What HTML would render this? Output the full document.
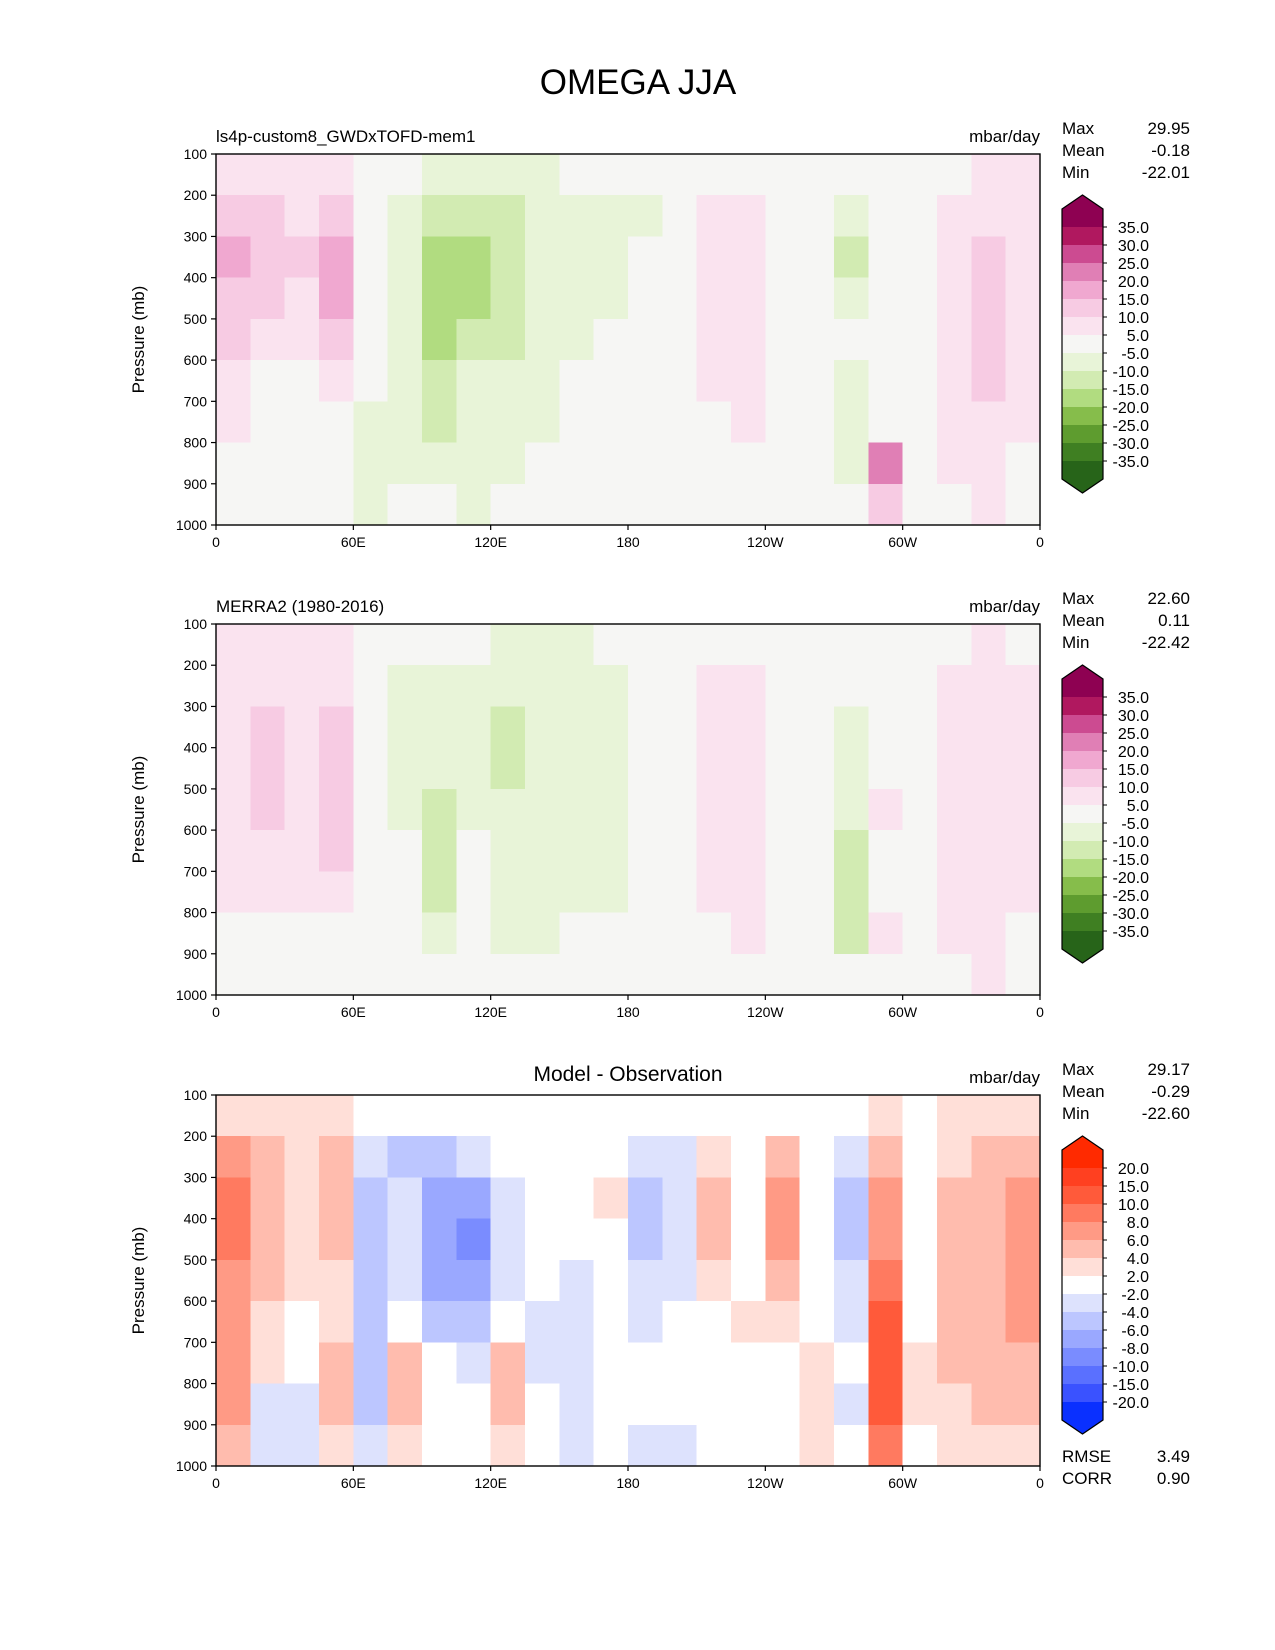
<!DOCTYPE html>
<html>
<head>
<meta charset="utf-8">
<style>
html,body{margin:0;padding:0;background:#fff;}
svg{display:block;font-family:"Liberation Sans","DejaVu Sans",sans-serif;}
</style>
</head>
<body>
<svg id="fig" width="1275" height="1650" viewBox="0 0 1275 1650" xmlns="http://www.w3.org/2000/svg">
<rect x="0" y="0" width="1275" height="1650" fill="#fff"/>
<text x="638" y="94" font-size="35" text-anchor="middle" fill="#000">OMEGA JJA</text>
</svg>
<script>
// ---- data ----
const xTickLabels = ["0","60E","120E","180","120W","60W","0"];
const yTickLabels = ["100","200","300","400","500","600","700","800","900","1000"];
const pressureLevels = [100,200,300,400,500,600,700,800,900,1000];
const lonBins = 24; // 15-degree bins from 0 to 360
const levelsMain = [-35,-30,-25,-20,-15,-10,-5,5,10,15,20,25,30,35];
const levelsDiff = [-20,-15,-10,-8,-6,-4,-2,2,4,6,8,10,15,20];
const colorsMain = ["#276419","#3f7f22","#5e9c2f","#86bd4b","#b1dc80","#d2ebb2","#e8f4d8","#f6f6f4","#fae3ef","#f7cbe3","#f0a8d0","#e07fb5","#cc4b91","#b0185f","#8e0152"];
const colorsDiff = ["#0a30ff","#3a52ff","#5a70ff","#7a8cff","#9aa8ff","#bcc6ff","#dde2fd","#ffffff","#ffdfd8","#ffbcae","#ff9a85","#ff7a60","#ff5a3a","#ff4020","#ff2a00"];
const model = [
[6,6,6,8,2,-3,-6,-6,-6,-6,-3,-3,0,0,0,0,0,0,-2,0,0,3,6,6],
[12,11,9,14,2,-8,-14,-12,-12,-9,-7,-6,-6,0,6,6,0,0,-10,0,0,7,9,8],
[17,12,10,18,2,-10,-17,-16,-14,-9,-7,-6,-2,0,7,6,0,0,-12,0,0,8,11,9],
[13,11,9,17,1,-10,-18,-17,-13,-9,-7,-6,0,0,7,6,0,0,-9,0,0,8,12,9],
[10,9,7,13,0,-8,-16,-14,-11,-8,-6,-2,0,0,6,7,0,0,-3,0,0,7,11,8],
[7,4,4,8,0,-6,-13,-10,-9,-7,-5,0,0,0,5,7,0,0,-6,0,0,7,10,7],
[5,2,3,3,-6,-6,-11,-7,-7,-6,-3,0,0,0,0,6,0,0,-7,4,0,6,9,6],
[3,0,-5,3,-10,-6,-6,-6,-6,-4,0,0,0,0,0,4,0,0,-8,20,0,6,8,4],
[0,-5,-5,0,-6,-3,-3,-6,-3,0,0,0,0,0,0,0,0,0,-3,10,-3,0,6,0]];
const obs = [
[5,5,5,6,3,-3,-5,-5,-6,-6,-6,-5,0,0,0,0,0,0,0,0,0,3,5,4],
[6,8,7,8,2,-7,-8,-6,-10,-9,-7,-7,0,0,5,5,0,0,-5,0,0,6,8,6],
[7,10,8,10,0,-10,-9,-6,-11,-10,-7,-7,0,0,6,6,0,0,-6,0,0,6,9,7],
[7,11,8,12,0,-9,-10,-6,-11,-10,-7,-7,0,0,6,6,0,0,-7,3,0,6,9,7],
[6,11,8,14,0,-7,-13,-6,-10,-9,-7,-6,0,0,6,7,0,0,-10,5,0,6,8,7],
[5,9,7,11,0,-4,-14,-5,-8,-7,-6,-6,0,0,6,7,0,0,-14,3,0,6,9,6],
[5,6,6,6,0,-3,-12,-5,-6,-6,-6,-6,0,0,5,6,0,0,-14,0,0,6,9,6],
[4,3,3,2,-3,-3,-8,-3,-6,-6,-5,-3,0,0,0,6,0,0,-12,5,0,5,8,4],
[0,0,-3,0,-3,0,-5,0,-3,0,0,0,0,0,0,0,0,0,-5,0,0,0,5,0]];
const diff = [
[3,3,2,3,0,-2,-1,-1,0,0,0,0,0,-1,0,0,0,0,-1,3,0,2,3,3],
[6,4,3,5,-4,-5,-5,-4,-2,-2,0,0,-4,-3,3,0,4,0,-3,5,0,3,4,5],
[8,5,3,5,-6,-4,-7,-8,-3,-2,0,2,-5,-3,4,0,6,-2,-5,6,0,4,5,6],
[8,5,3,4,-5,-3,-7,-9,-3,-2,-2,0,-5,-3,4,0,7,-2,-5,6,0,4,5,6],
[7,4,2,2,-6,-3,-8,-8,-3,-2,-3,0,-4,-3,2,0,5,-2,-4,8,0,4,5,6],
[6,3,1,3,-5,0,-5,-6,-2,-3,-3,0,-3,-2,0,2,2,0,-3,10,0,4,5,6],
[6,2,-2,4,-6,4,-2,-3,4,-3,-3,0,-2,-2,0,0,0,2,-2,11,2,4,5,5],
[7,-3,-3,5,-5,5,-2,-2,5,-2,-3,0,-2,-2,0,0,0,2,-3,13,3,3,4,4],
[5,-4,-3,2,-3,2,-2,-2,3,-2,-3,-2,-3,-3,-2,-2,0,2,-2,8,-2,2,3,3]];
const statLabels = ["Max","Mean","Min"];
const statsModel = ["29.95","-0.18","-22.01"];
const statsObs = ["22.60","0.11","-22.42"];
const statsDiff = ["29.17","-0.29","-22.60"];
const extraLabels = ["RMSE","CORR"];
const extraValues = ["3.49","0.90"];

// ---- drawing ----
const NS="http://www.w3.org/2000/svg";
const svg=document.getElementById('fig');
function mk(tag,attrs,parent){const e=document.createElementNS(NS,tag);for(const k in attrs)e.setAttribute(k,attrs[k]);(parent||svg).appendChild(e);return e;}
const X0=216,X1=1040;
function xScale(lon){return X0+(lon/360)*(X1-X0);}
function colorFor(v,levels,colors){let i=0;while(i<levels.length&&v>=levels[i])i++;return colors[i];}

const panels=[
 {top:154,data:model,stats:statsModel,title:"ls4p-custom8_GWDxTOFD-mem1",center:false,diff:false,name:"model-panel"},
 {top:624,data:obs,stats:statsObs,title:"MERRA2 (1980-2016)",center:false,diff:false,name:"obs-panel"},
 {top:1095,data:diff,stats:statsDiff,title:"Model - Observation",center:true,diff:true,name:"diff-panel"}];
const H=371;

panels.forEach((p,pi)=>{
  const g=mk('g',{});
  
  
  const levs=p.diff?levelsDiff:levelsMain;
  const cols=p.diff?colorsDiff:colorsMain;
  const yScale=pr=>p.top+(pr-100)/900*H;
  const bg=mk('rect',{x:X0,y:p.top,width:X1-X0,height:H,fill:p.diff?'#ffffff':'#f6f6f4'},g);
  
  
  const cg=mk('g',{'shape-rendering':'crispEdges'},g);
  
  
  p.data.forEach((row,ri)=>{
    row.forEach((v,ci)=>{
      const c=colorFor(v,levs,cols);
      const x=xScale(ci*360/lonBins), x2=xScale((ci+1)*360/lonBins);
      const y=yScale(pressureLevels[ri]), y2=yScale(pressureLevels[ri+1]);
      const r=mk('rect',{x:x,y:y,width:x2-x+0.5,height:y2-y+0.5,fill:c},cg);
      
      
    });
  });
  const fr=mk('rect',{x:X0,y:p.top,width:X1-X0,height:H,fill:'none',stroke:'#000','stroke-width':1.4},g);
  
  
  yTickLabels.forEach((t,i)=>{
    const y=yScale(pressureLevels[i]);
    mk('line',{x1:X0-5,x2:X0,y1:y,y2:y,stroke:'#000','stroke-width':1.2},g);
    const tx=mk('text',{x:X0-9,y:y+5,'font-size':14,'text-anchor':'end'},g);
    tx.textContent=t;
    
    
  });
  xTickLabels.forEach((t,i)=>{
    const x=xScale(i*60);
    mk('line',{x1:x,x2:x,y1:p.top+H,y2:p.top+H+5,stroke:'#000','stroke-width':1.2},g);
    const tx=mk('text',{x:x,y:p.top+H+22,'font-size':14,'text-anchor':'middle'},g);
    tx.textContent=t;
    
    
  });
  const yt=mk('text',{x:0,y:0,'font-size':17,'text-anchor':'middle',transform:`translate(144,${p.top+H/2}) rotate(-90)`},g);
  yt.textContent='Pressure (mb)';
  
  
  const tt=mk('text',{x:p.center?(X0+X1)/2:X0,y:p.top-(p.center?14:12),'font-size':p.center?21:17,'text-anchor':p.center?'middle':'start'},g);
  tt.textContent=p.title;
  
  
  const ut=mk('text',{x:X1,y:p.top-12,'font-size':17,'text-anchor':'end'},g);
  ut.textContent='mbar/day';
  
  
  statLabels.forEach((s,i)=>{
    const y=p.top-20+i*22;
    const a=mk('text',{x:1062,y:y,'font-size':17},g);a.textContent=s;
    
    
    const b=mk('text',{x:1190,y:y,'font-size':17,'text-anchor':'end'},g);b.textContent=p.stats[i];
    
    
  });
  // colorbar
  const cbx=1062,cbw=41,lvTop=p.top+73,step=18;
  const cb=mk('g',{},g);
  
  
  const binCols=cols.slice().reverse();
  mk('polygon',{points:`${cbx},${lvTop-step} ${cbx+cbw/2},${lvTop-step-14} ${cbx+cbw},${lvTop-step} ${cbx+cbw},${lvTop} ${cbx},${lvTop}`,fill:binCols[0]},cb);
  for(let i=1;i<binCols.length-1;i++){
    mk('rect',{x:cbx,y:lvTop+(i-1)*step,width:cbw,height:step+0.5,fill:binCols[i]},cb);
  }
  const lvBot=lvTop+(levs.length-1)*step;
  mk('polygon',{points:`${cbx},${lvBot} ${cbx+cbw},${lvBot} ${cbx+cbw},${lvBot+step} ${cbx+cbw/2},${lvBot+step+14} ${cbx},${lvBot+step}`,fill:binCols[binCols.length-1]},cb);
  mk('polygon',{points:`${cbx},${lvTop-step} ${cbx+cbw/2},${lvTop-step-14} ${cbx+cbw},${lvTop-step} ${cbx+cbw},${lvBot+step} ${cbx+cbw/2},${lvBot+step+14} ${cbx},${lvBot+step}`,fill:'none',stroke:'#000','stroke-width':1.2},cb);
  for(let i=0;i<levs.length;i++){
    const v=levs[levs.length-1-i];
    const y=lvTop+i*step;
    mk('line',{x1:cbx+cbw,x2:cbx+cbw+4,y1:y,y2:y,stroke:'#000'},cb);
    const t=mk('text',{x:cbx+cbw+46,y:y+6,'font-size':16,'text-anchor':'end'},cb);
    t.textContent=v.toFixed(1);
    
    
  }
  if(p.diff){
    extraLabels.forEach((s,i)=>{
      const y=1462+i*22;
      const a=mk('text',{x:1062,y:y,'font-size':17},g);a.textContent=s;
      
      
      const b=mk('text',{x:1190,y:y,'font-size':17,'text-anchor':'end'},g);b.textContent=extraValues[i];
      
      
    });
  }
});
</script>
</body>
</html>
